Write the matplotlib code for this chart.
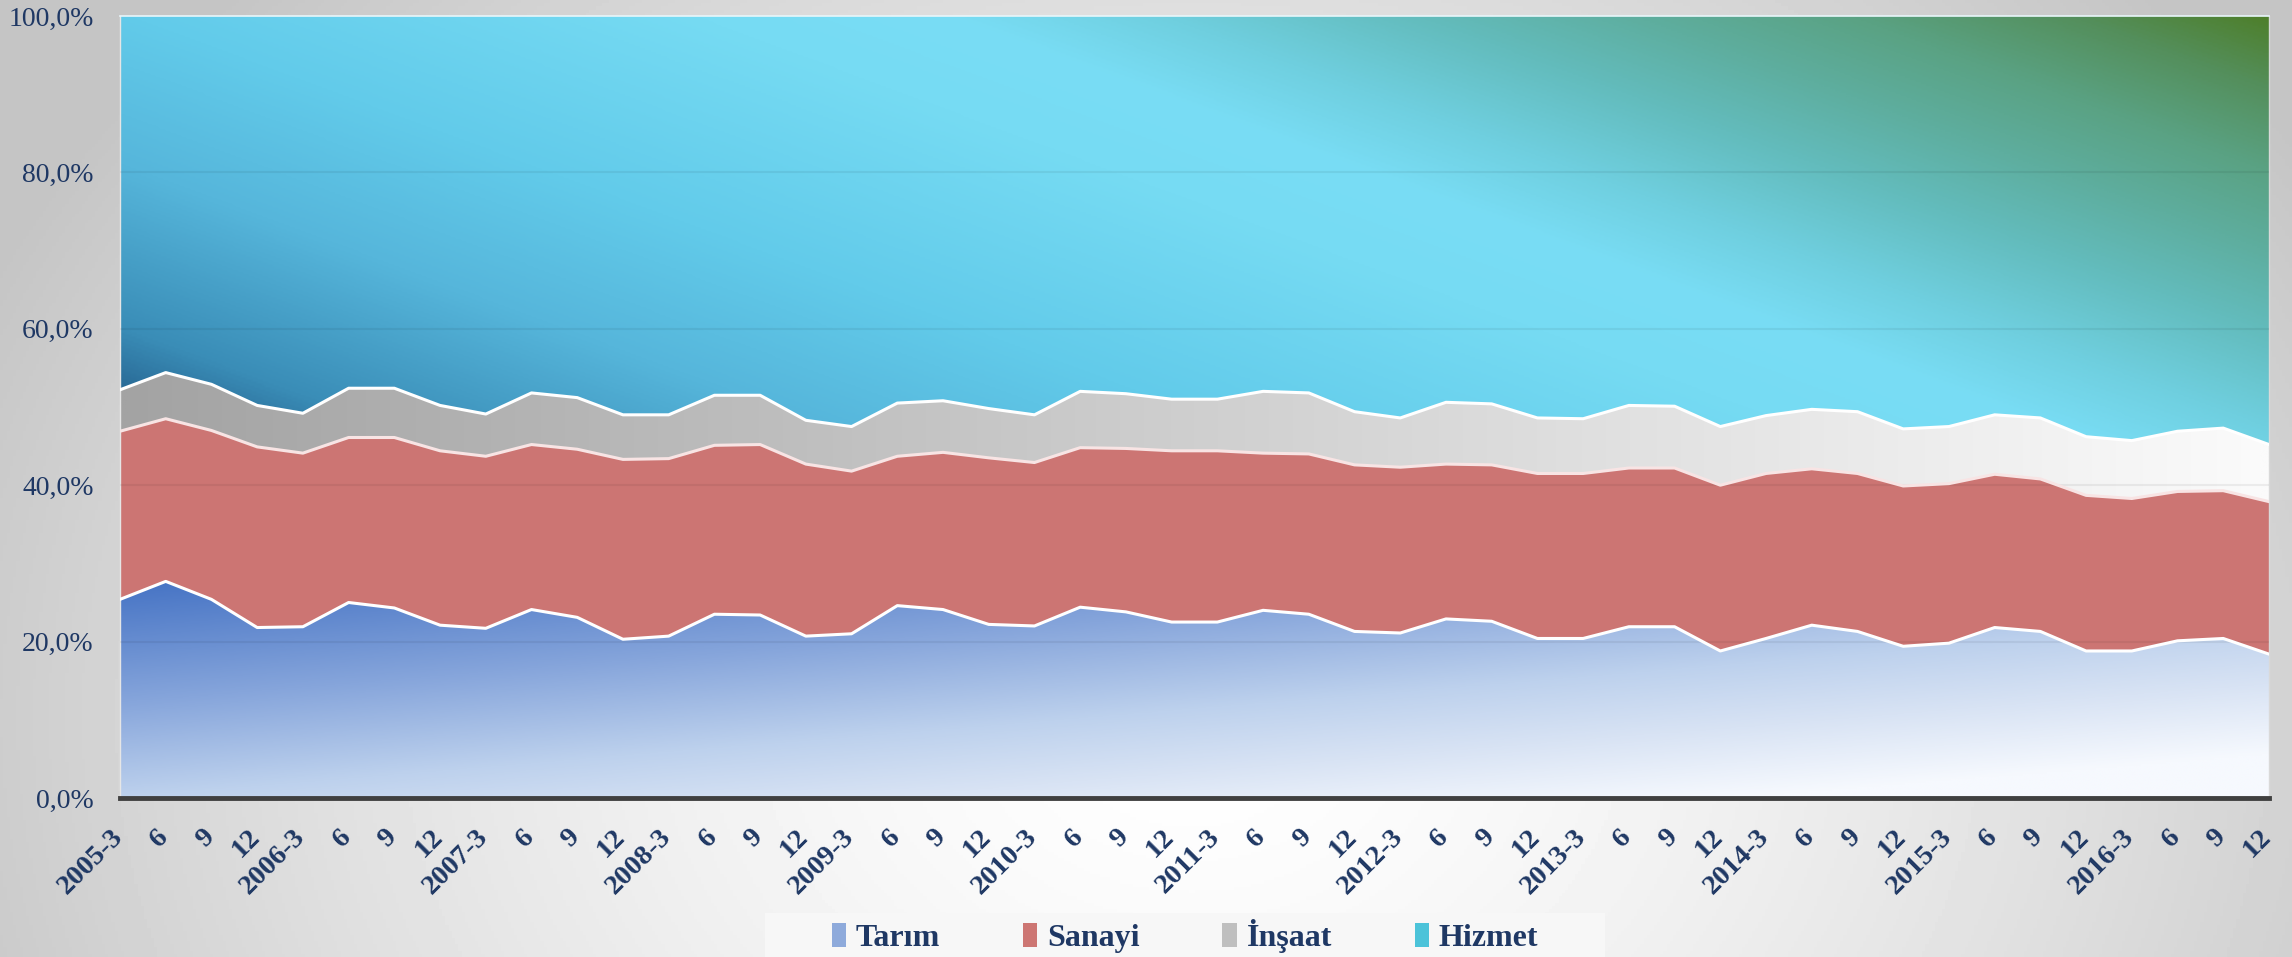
import numpy as np
import matplotlib
matplotlib.use('Agg')
import matplotlib.pyplot as plt
from matplotlib.colors import LinearSegmentedColormap
from matplotlib.patches import Patch, Rectangle
from matplotlib.transforms import ScaledTranslation

# quarterly labels 2005-3 ... 2016-12
periods = []
for yr in range(2005, 2017):
    periods += [f"{yr}-3", "6", "9", "12"]

# shares of employment by sector (%)
tarim = [25.4, 27.7, 25.4, 21.8, 21.9, 25.0, 24.3, 22.1, 21.7, 24.1, 23.1, 20.3,
         20.7, 23.5, 23.4, 20.7, 21.0, 24.6, 24.1, 22.2, 22.0, 24.4, 23.8, 22.5,
         22.5, 24.0, 23.5, 21.3, 21.1, 22.9, 22.6, 20.4, 20.4, 21.9, 21.9, 18.8,
         20.4, 22.1, 21.3, 19.4, 19.8, 21.8, 21.3, 18.8, 18.8, 20.1, 20.4, 18.4]
sanayi = [21.5, 20.8, 21.6, 23.1, 22.2, 21.1, 21.8, 22.3, 22.0, 21.1, 21.5, 23.0,
          22.7, 21.6, 21.8, 22.0, 20.8, 19.1, 20.1, 21.3, 20.9, 20.4, 20.9, 21.9,
          21.9, 20.1, 20.5, 21.3, 21.2, 19.8, 20.0, 21.1, 21.1, 20.3, 20.3, 21.2,
          21.1, 20.0, 20.2, 20.5, 20.4, 19.6, 19.5, 19.9, 19.5, 19.1, 18.9, 19.5]
insaat = [5.3, 5.9, 5.9, 5.3, 5.1, 6.3, 6.3, 5.8, 5.4, 6.6, 6.6, 5.7,
          5.6, 6.4, 6.3, 5.6, 5.7, 6.8, 6.6, 6.3, 6.1, 7.2, 7.0, 6.6,
          6.6, 7.9, 7.8, 6.8, 6.3, 7.9, 7.8, 7.1, 7.0, 8.0, 7.9, 7.5,
          7.4, 7.6, 7.9, 7.3, 7.3, 7.6, 7.8, 7.5, 7.4, 7.7, 8.0, 7.3]
hizmet = [47.8, 45.6, 47.1, 49.8, 50.8, 47.6, 47.6, 49.8, 50.9, 48.2, 48.8, 51.0,
          51.0, 48.5, 48.5, 51.7, 52.5, 49.5, 49.2, 50.2, 51.0, 48.0, 48.3, 49.0,
          49.0, 48.0, 48.2, 50.6, 51.4, 49.4, 49.6, 51.4, 51.5, 49.8, 49.9, 52.5,
          51.1, 50.3, 50.6, 52.8, 52.5, 51.0, 51.4, 53.8, 54.3, 53.1, 52.7, 54.8]

names = ["Tarım", "Sanayi", "İnşaat", "Hizmet"]
txt_col = '#1f3864'
serif = ['Liberation Serif', 'DejaVu Serif']

W, H = 2292, 957
fig = plt.figure(figsize=(W / 100, H / 100), dpi=100)

# grey/white background gradient
bg = fig.add_axes([0, 0, 1, 1], zorder=-10)
bg.axis('off')
yy, xx = np.mgrid[0:1:300j, 0:1:700j]
d = np.sqrt(((xx - 0.52) / 0.58) ** 2 + ((yy - 0.75) / 1.1) ** 2)
g = 1 - 0.23 * np.clip(d, 0, 1) ** 1.5
bg.imshow(g, cmap='gray', vmin=0, vmax=1, extent=[0, 1, 0, 1], aspect='auto')
bg.set_xlim(0, 1)
bg.set_ylim(0, 1)

ax = fig.add_axes([120 / W, 1 - 798 / H, (2269 - 120) / W, (798 - 16) / H])
ax.patch.set_visible(False)

x = np.arange(len(periods))
data = np.array([tarim, sanayi, insaat, hizmet], dtype=float)
data = data / data.sum(axis=0) * 100
cum = np.vstack([np.zeros(len(x)), np.cumsum(data, axis=0)])

# gradient images in axes fraction (u left->right, v top->bottom)
vv, uu = np.mgrid[0:1:400j, 0:1:800j]
px = 82 + 1470 * uu
py = 11 + 535 * vv

t_hiz = (0.35 * px - 0.94 * py + 220.4) / 753.3
cm_hiz = LinearSegmentedColormap.from_list('hiz', [
    (0.0, '#2a6c98'), (0.05, '#3a8db7'), (0.19, '#56b6db'), (0.32, '#62cbea'),
    (0.5, '#76dbf3'), (0.58, '#79ddf5'), (0.65, '#6fcfdf'), (0.73, '#63bcbd'),
    (0.8, '#5eae9f'), (0.87, '#5aa283'), (0.94, '#548f5c'), (1.0, '#4e7f2c')])

w = np.clip((vv - 0.72) / 0.28, 0, 1)
t_tar = np.clip(0.62 * w + 0.5 * uu, 0, 1)
cm_tar = LinearSegmentedColormap.from_list('tar', [
    (0.0, '#4472c4'), (0.35, '#86a5db'), (0.62, '#bdd1ed'), (0.8, '#d8e3f4'), (1.0, '#f6f9fe')])

cm_ins = LinearSegmentedColormap.from_list('ins', ['#a3a3a3', '#cfcfcf', '#fbfbfb'])


def grad_fill(lo, hi, img, cmap):
    poly = ax.fill_between(x, lo, hi, facecolor='none', edgecolor='none', zorder=1)
    im = ax.imshow(img, cmap=cmap, vmin=0, vmax=1, extent=[0, 1, 0, 1],
                   transform=ax.transAxes, aspect='auto', zorder=1,
                   interpolation='bilinear')
    im.set_clip_path(poly.get_paths()[0], transform=ax.transData)


grad_fill(cum[0], cum[1], t_tar, cm_tar)
ax.fill_between(x, cum[1], cum[2], facecolor='#cc7573', edgecolor='none', zorder=1)
grad_fill(cum[2], cum[3], uu, cm_ins)
grad_fill(cum[3], cum[4], np.clip(t_hiz, 0, 1), cm_hiz)

for v in [20, 40, 60, 80]:
    ax.axhline(v, color='black', alpha=0.06, lw=1.5, zorder=3)

ax.plot(x, cum[1], color='white', lw=2.2, zorder=4)
ax.plot(x, cum[2], color='#f8e4e4', lw=2.2, zorder=4)
ax.plot(x, cum[3], color='white', lw=2.2, zorder=4)

ax.set_xlim(0, len(x) - 1)
ax.set_ylim(0, 100)

ax.spines['bottom'].set_color('#404040')
ax.spines['bottom'].set_linewidth(3.5)
ax.spines['left'].set_color('#e6e6e6')
ax.spines['left'].set_linewidth(1)
ax.spines['top'].set_color('#e8f6fa')
ax.spines['top'].set_linewidth(1.2)
ax.spines['right'].set_color('#d9d9d9')
ax.spines['right'].set_linewidth(1)

ax.set_yticks([0, 20, 40, 60, 80, 100])
ax.set_yticklabels([f"{v:.1f}%".replace('.', ',') for v in [0, 20, 40, 60, 80, 100]],
                   family=serif, fontsize=20, color=txt_col)
ax.set_xticks(x)
ax.set_xticklabels(periods, rotation=45, ha='right', va='top', rotation_mode='anchor',
                   family=serif, fontsize=20.5, fontweight='bold', color=txt_col)
ax.tick_params(axis='y', length=0, pad=19)
ax.tick_params(axis='x', length=0, pad=19)
for lab in ax.get_xticklabels():
    lab.set_transform(lab.get_transform() + ScaledTranslation(-0.10, 0, fig.dpi_scale_trans))

# legend
fig.patches.append(Rectangle((765 / W, 0), (1605 - 765) / W, 44 / H,
                             transform=fig.transFigure, facecolor='#f7f7f7',
                             edgecolor='none', zorder=0))
handles = [Patch(facecolor=c, edgecolor='none')
           for c in ['#8eaadb', '#cd7673', '#bfbfbf', '#4cc3d9']]
fig.legend(handles, names, loc='center', bbox_to_anchor=(0.517, 0.022), ncol=4,
           frameon=False, prop={'family': serif, 'size': 23, 'weight': 'bold'},
           labelcolor=txt_col, handlelength=0.45, handleheight=0.8,
           handletextpad=0.3, columnspacing=2.6)

fig.savefig('out.png', dpi=100)
